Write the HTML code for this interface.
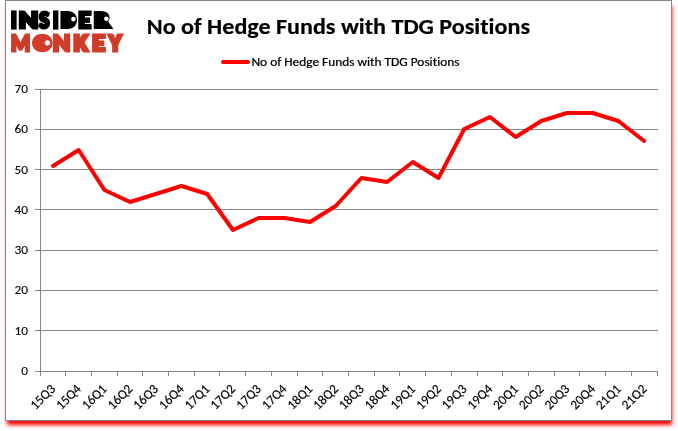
<!DOCTYPE html>
<html><head><meta charset="utf-8"><style>
html,body{margin:0;padding:0;background:#fff;}
body{width:678px;height:431px;overflow:hidden;position:relative;}
.box{position:absolute;left:5px;top:0;width:665px;height:419px;border:1px solid #878787;background:#fff;box-shadow:1px 5px 4px -1px #f00;}
svg{position:absolute;left:0;top:0;}
text{font-family:Carlito,"Liberation Sans",sans-serif;font-variant-ligatures:none;font-feature-settings:"liga" 0,"clig" 0;}
</style></head><body>
<div class="box"></div>
<svg width="678" height="431" viewBox="0 0 678 431">
<g stroke="#868686" stroke-width="1" fill="none">
<path d="M35 330.5H658"/>
<path d="M35 290.5H658"/>
<path d="M35 250.5H658"/>
<path d="M35 209.5H658"/>
<path d="M35 169.5H658"/>
<path d="M35 129.5H658"/>
<path d="M35 89.5H658"/>
<path d="M35 371.5H658"/>
<path d="M40.5 89V376"/>
<path d="M65.5 372V376"/>
<path d="M91.5 372V376"/>
<path d="M117.5 372V376"/>
<path d="M142.5 372V376"/>
<path d="M168.5 372V376"/>
<path d="M194.5 372V376"/>
<path d="M219.5 372V376"/>
<path d="M245.5 372V376"/>
<path d="M271.5 372V376"/>
<path d="M297.5 372V376"/>
<path d="M322.5 372V376"/>
<path d="M348.5 372V376"/>
<path d="M374.5 372V376"/>
<path d="M399.5 372V376"/>
<path d="M425.5 372V376"/>
<path d="M451.5 372V376"/>
<path d="M477.5 372V376"/>
<path d="M502.5 372V376"/>
<path d="M528.5 372V376"/>
<path d="M554.5 372V376"/>
<path d="M579.5 372V376"/>
<path d="M605.5 372V376"/>
<path d="M631.5 372V376"/>
<path d="M657.5 372V376"/>
</g>
<g font-size="13.33" text-anchor="end" fill="#000" stroke="#000" stroke-width="0.1">
<text transform="translate(28 375.0) scale(1 0.9)">0</text>
<text transform="translate(28 334.7) scale(1 0.9)">10</text>
<text transform="translate(28 294.4) scale(1 0.9)">20</text>
<text transform="translate(28 254.1) scale(1 0.9)">30</text>
<text transform="translate(28 213.9) scale(1 0.9)">40</text>
<text transform="translate(28 173.6) scale(1 0.9)">50</text>
<text transform="translate(28 133.3) scale(1 0.9)">60</text>
<text transform="translate(28 93.0) scale(1 0.9)">70</text>
</g>
<g font-size="13.33" text-anchor="end" fill="#000" stroke="#000" stroke-width="0.15">
<text transform="translate(56.15 389.70) rotate(-45)" textLength="29.2" lengthAdjust="spacingAndGlyphs">15Q3</text>
<text transform="translate(81.86 389.70) rotate(-45)" textLength="29.2" lengthAdjust="spacingAndGlyphs">15Q4</text>
<text transform="translate(107.57 389.70) rotate(-45)" textLength="29.2" lengthAdjust="spacingAndGlyphs">16Q1</text>
<text transform="translate(133.28 389.70) rotate(-45)" textLength="29.2" lengthAdjust="spacingAndGlyphs">16Q2</text>
<text transform="translate(158.99 389.70) rotate(-45)" textLength="29.2" lengthAdjust="spacingAndGlyphs">16Q3</text>
<text transform="translate(184.70 389.70) rotate(-45)" textLength="29.2" lengthAdjust="spacingAndGlyphs">16Q4</text>
<text transform="translate(210.40 389.70) rotate(-45)" textLength="29.2" lengthAdjust="spacingAndGlyphs">17Q1</text>
<text transform="translate(236.11 389.70) rotate(-45)" textLength="29.2" lengthAdjust="spacingAndGlyphs">17Q2</text>
<text transform="translate(261.82 389.70) rotate(-45)" textLength="29.2" lengthAdjust="spacingAndGlyphs">17Q3</text>
<text transform="translate(287.53 389.70) rotate(-45)" textLength="29.2" lengthAdjust="spacingAndGlyphs">17Q4</text>
<text transform="translate(313.24 389.70) rotate(-45)" textLength="29.2" lengthAdjust="spacingAndGlyphs">18Q1</text>
<text transform="translate(338.95 389.70) rotate(-45)" textLength="29.2" lengthAdjust="spacingAndGlyphs">18Q2</text>
<text transform="translate(364.65 389.70) rotate(-45)" textLength="29.2" lengthAdjust="spacingAndGlyphs">18Q3</text>
<text transform="translate(390.36 389.70) rotate(-45)" textLength="29.2" lengthAdjust="spacingAndGlyphs">18Q4</text>
<text transform="translate(416.07 389.70) rotate(-45)" textLength="29.2" lengthAdjust="spacingAndGlyphs">19Q1</text>
<text transform="translate(441.78 389.70) rotate(-45)" textLength="29.2" lengthAdjust="spacingAndGlyphs">19Q2</text>
<text transform="translate(467.49 389.70) rotate(-45)" textLength="29.2" lengthAdjust="spacingAndGlyphs">19Q3</text>
<text transform="translate(493.20 389.70) rotate(-45)" textLength="29.2" lengthAdjust="spacingAndGlyphs">19Q4</text>
<text transform="translate(518.90 389.70) rotate(-45)" textLength="29.2" lengthAdjust="spacingAndGlyphs">20Q1</text>
<text transform="translate(544.61 389.70) rotate(-45)" textLength="29.2" lengthAdjust="spacingAndGlyphs">20Q2</text>
<text transform="translate(570.32 389.70) rotate(-45)" textLength="29.2" lengthAdjust="spacingAndGlyphs">20Q3</text>
<text transform="translate(596.03 389.70) rotate(-45)" textLength="29.2" lengthAdjust="spacingAndGlyphs">20Q4</text>
<text transform="translate(621.74 389.70) rotate(-45)" textLength="29.2" lengthAdjust="spacingAndGlyphs">21Q1</text>
<text transform="translate(647.45 389.70) rotate(-45)" textLength="29.2" lengthAdjust="spacingAndGlyphs">21Q2</text>
</g>
<polyline points="53.00,166.00 78.70,150.00 104.40,190.00 130.10,202.00 155.80,194.00 181.50,186.00 207.20,194.00 232.90,230.00 258.60,218.00 284.30,218.00 310.00,222.00 335.70,206.00 361.40,178.00 387.10,182.00 412.80,162.00 438.50,178.00 464.20,129.00 489.90,117.00 515.60,137.00 541.30,121.00 567.00,113.00 592.70,113.00 618.40,121.00 644.10,141.00" fill="none" stroke="#f00" stroke-width="4" stroke-linejoin="round" stroke-linecap="round"/>
<text transform="translate(146.8 34) scale(1 0.96)" font-size="24" font-weight="bold" fill="#000" stroke="#000" stroke-width="0.2" textLength="383.2" lengthAdjust="spacingAndGlyphs">No of Hedge Funds with TDG Positions</text>
<path d="M223 62H248" stroke="#f00" stroke-width="4" stroke-linecap="round"/>
<text transform="translate(251.5 66) scale(1 0.88)" font-size="13.33" fill="#000" stroke="#000" stroke-width="0.25" textLength="208" lengthAdjust="spacingAndGlyphs">No of Hedge Funds with TDG Positions</text>
<g font-family="'Liberation Sans',sans-serif" font-weight="bold" stroke-linejoin="miter">
<text fill="#000" stroke="#000"><tspan x="11.12" y="27.90" font-size="23.5" stroke-width="3.2" textLength="5.67" lengthAdjust="spacingAndGlyphs">I</tspan><tspan x="19.02" y="27.90" font-size="23.5" stroke-width="3.2" textLength="18.98" lengthAdjust="spacingAndGlyphs">N</tspan><tspan x="39.22" y="27.90" font-size="23.5" stroke-width="3.2" textLength="10.00" lengthAdjust="spacingAndGlyphs">S</tspan><tspan x="53.02" y="27.90" font-size="23.5" stroke-width="3.2" textLength="5.38" lengthAdjust="spacingAndGlyphs">I</tspan><tspan x="62.41" y="25.90" font-size="18" stroke-width="6" textLength="11.78" lengthAdjust="spacingAndGlyphs">D</tspan><tspan x="78.52" y="27.90" font-size="23.5" stroke-width="3.2" textLength="12.27" lengthAdjust="spacingAndGlyphs">E</tspan><tspan x="95.98" y="25.90" font-size="18" stroke-width="6" textLength="11.51" lengthAdjust="spacingAndGlyphs">R</tspan></text>
<text fill="#d13c2a" stroke="#d13c2a"><tspan x="11.05" y="51.02" font-size="24.6" stroke-width="3.2" textLength="19.10" lengthAdjust="spacingAndGlyphs">M</tspan><tspan x="35.28" y="49.02" font-size="18" stroke-width="6.5" textLength="14.07" lengthAdjust="spacingAndGlyphs">O</tspan><tspan x="52.95" y="51.05" font-size="24.6" stroke-width="3.2" textLength="17.13" lengthAdjust="spacingAndGlyphs">N</tspan><tspan x="73.66" y="51.05" font-size="24.6" stroke-width="3.2" textLength="14.03" lengthAdjust="spacingAndGlyphs">K</tspan><tspan x="92.26" y="51.05" font-size="24.6" stroke-width="3.2" textLength="12.85" lengthAdjust="spacingAndGlyphs">E</tspan><tspan x="109.00" y="51.05" font-size="24.6" stroke-width="3.2" textLength="12.35" lengthAdjust="spacingAndGlyphs">Y</tspan></text>
<g fill="#fff"><circle cx="73.4" cy="19.1" r="2.3"/><circle cx="106.4" cy="18.7" r="2.3"/><circle cx="47.4" cy="42.8" r="2.6"/></g>
</g>
</svg>
</body></html>
